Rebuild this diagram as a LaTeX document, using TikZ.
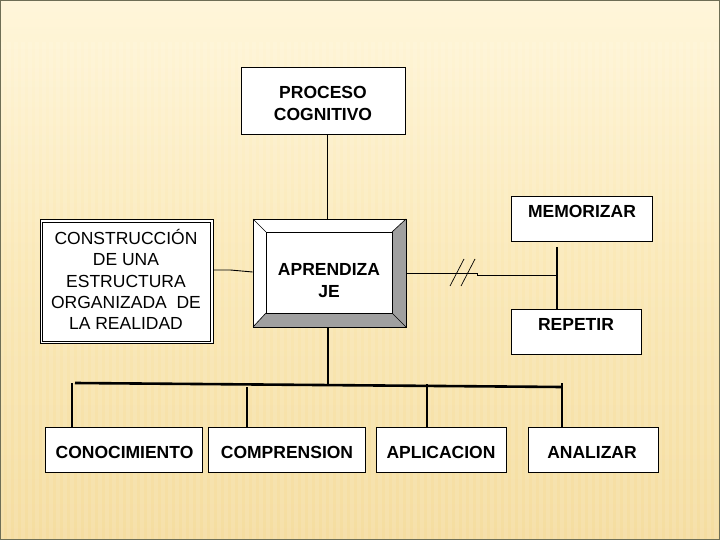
\documentclass[tikz,border=0pt]{standalone}
\usepackage{fontspec}
\setmainfont{Liberation Sans}
\definecolor{bgtop}{RGB}{255,246,218}
\definecolor{bgmid}{RGB}{250,232,182}
\definecolor{bgbot}{RGB}{245,221,160}
\definecolor{bevel}{RGB}{160,160,160}
\definecolor{frame}{RGB}{110,110,85}
\begin{document}
\begin{tikzpicture}[x=1pt,y=-1pt,
  box/.style={draw=black,line width=0.8pt,fill=white,inner sep=0pt,align=center},
  lbl/.style={font=\fontsize{17.5}{22}\selectfont\bfseries,align=center,inner sep=0pt},
  reg/.style={font=\fontsize{17.5}{21.3}\selectfont,align=center,inner sep=0pt},
  conn/.style={draw=black,line width=0.9pt},
  bus/.style={line width=2.6pt},
  drop/.style={line width=2.2pt}]
\useasboundingbox (0,0) rectangle (720,540);
% background
\shade[top color=bgtop, bottom color=bgbot, middle color=bgmid] (0,0) rectangle (720,540);
\foreach \i in {0,7,...,720} \fill[white,opacity=0.11] (\i,42) rectangle ++(3.5,498);
\draw[frame,line width=1.2pt] (0,0) rectangle (720,540);

% PROCESO COGNITIVO
\node[box,minimum width=164pt,minimum height=67pt] (pc) at (323,100.5) {};
\node[lbl] (pct) at (323,103) {PROCESO\\COGNITIVO};

% APRENDIZAJE bevel box
\node[box,minimum width=153pt,minimum height=108pt] (apr) at (329.5,273) {};
\fill[bevel] (392,232) -- (406,219) -- (406,327) -- (392,313) -- cycle;
\fill[bevel] (266,313) -- (392,313) -- (406,327) -- (253,327) -- cycle;
\draw[line width=0.8pt] (253,219) rectangle (406,327);
\draw[line width=0.8pt] (266,232) rectangle (392,313);
\draw[line width=0.6pt] (253,219) -- (266,232) (406,219) -- (392,232)
  (253,327) -- (266,313) (406,327) -- (392,313);
\node[lbl] (aprt) at (329,281) {APRENDIZA\\JE};

% CONSTRUCCION box
\node[box,minimum width=173pt,minimum height=124pt] (con) at (126.5,281.5) {};
\draw[line width=0.7pt] ([shift={(3pt,-3pt)}]con.north west) rectangle ([shift={(-3pt,3pt)}]con.south east);
\node[reg] (cont) at (126,279.5)
  {CONSTRUCCIÓN\\DE UNA\\ESTRUCTURA\\ORGANIZADA\ \ DE\\LA REALIDAD};

% MEMORIZAR / REPETIR
\node[box,minimum width=141pt,minimum height=45pt] (mem) at (581.5,218.5) {};
\node[lbl] (memt) at (582,211) {MEMORIZAR};
\node[box,minimum width=130pt,minimum height=45pt] (rep) at (576,331.5) {};
\node[lbl] (rept) at (576,324) {REPETIR};

% bottom boxes
\node[box,minimum width=157pt,minimum height=45pt] (k1) at (123.5,449.5) {};
\node[box,minimum width=157pt,minimum height=45pt] (k2) at (287,449.5) {};
\node[box,minimum width=130pt,minimum height=45pt] (k3) at (441,449.5) {};
\node[box,minimum width=130pt,minimum height=45pt] (k4) at (593,449.5) {};
\node[lbl] (k1t) at (124.5,452) {CONOCIMIENTO};
\node[lbl] (k2t) at (287,452) {COMPRENSION};
\node[lbl] (k3t) at (441,452) {APLICACION};
\node[lbl] (k4t) at (592,452) {ANALIZAR};

% connectors
\draw[conn] ([xshift=4pt]pc.south) -- ([xshift=-2.5pt]apr.north);
\draw[conn] ([yshift=11.5pt]con.east) -- ++(17,0) -- ([yshift=1pt]apr.west);
\coordinate (hj) at (557,275);
\coordinate (mj) at (557,247);
\draw[conn] (apr.east) -- (477,273) -- (477,275) -- (hj);
\draw[line width=1.6pt] (mj) -- (mj |- rep.north);
\draw[line width=0.7pt] (450,286) -- (464,259) (461,286) -- (475,259);

\coordinate (bc) at (328,385);
\coordinate (bl) at (75,383);
\coordinate (br) at (562,387);
\coordinate (b1) at (72,383);
\coordinate (b2) at (247,387);
\coordinate (b3) at (427,384);
\coordinate (b4) at (562,383);
\draw[line width=1.8pt] ([xshift=-1.5pt]apr.south) -- (bc);
\draw[bus] (bl) -- (br);
\draw[drop] (b1) -- (k1.north -| b1);
\draw[drop] (b2) -- (k2.north -| b2);
\draw[drop] (b3) -- (k3.north -| b3);
\draw[drop] (b4) -- (k4.north -| b4);
\end{tikzpicture}
\end{document}
